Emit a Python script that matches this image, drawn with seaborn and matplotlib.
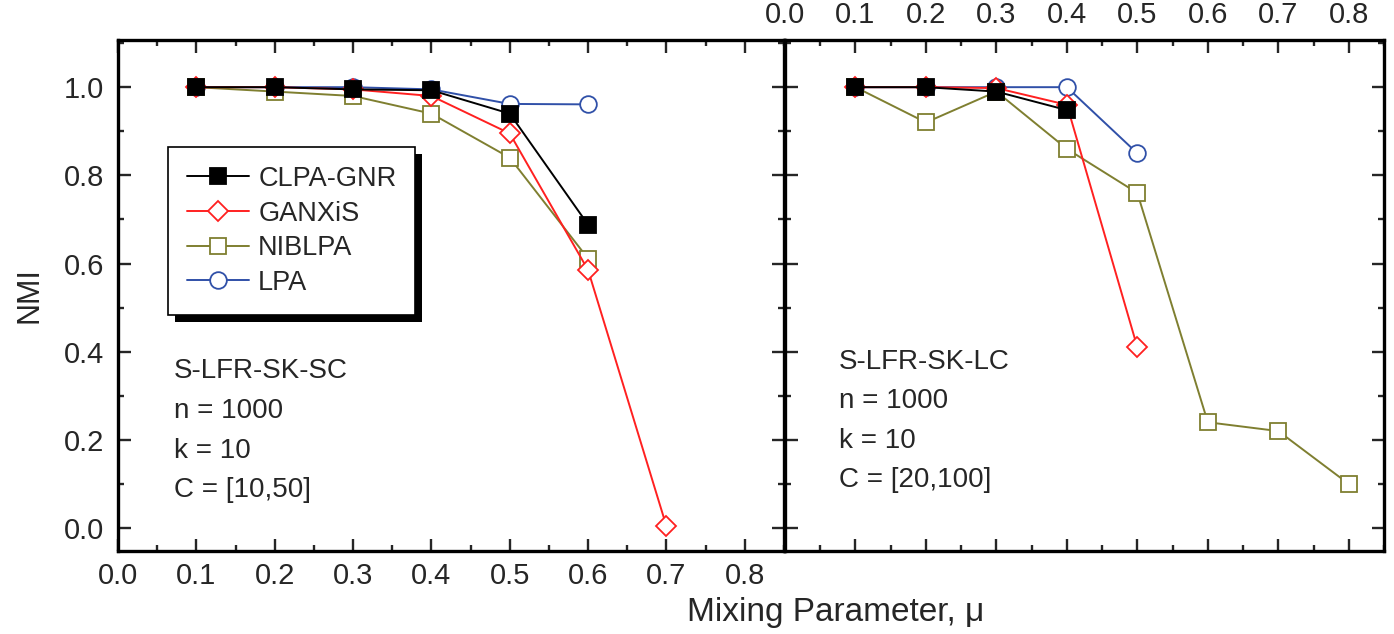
import matplotlib
matplotlib.use("Agg")
import matplotlib.pyplot as plt
from matplotlib.ticker import MultipleLocator
from matplotlib.patches import Rectangle
import seaborn as sns
import pandas as pd

sns.set_style("ticks")
plt.rcParams['font.family'] = ['Liberation Sans', 'DejaVu Sans']

# ---- data ----
series = ["CLPA-GNR", "GANXiS", "NIBLPA", "LPA"]

mu_sc = [0.1, 0.2, 0.3, 0.4, 0.5, 0.6, 0.7]
sc_clpa = [1.0, 1.0, 0.995, 0.993, 0.94, 0.688]
sc_ganxis = [1.0, 1.0, 0.995, 0.98, 0.895, 0.585, 0.004]
sc_niblpa = [1.0, 0.99, 0.98, 0.94, 0.84, 0.611]
sc_lpa = [1.0, 1.0, 1.0, 0.995, 0.962, 0.961]

mu_lc = [0.1, 0.2, 0.3, 0.4, 0.5, 0.6, 0.7, 0.8]
lc_clpa = [1.0, 1.0, 0.99, 0.948]
lc_ganxis = [1.0, 1.0, 0.998, 0.96, 0.41]
lc_niblpa = [1.0, 0.92, 0.99, 0.86, 0.76, 0.24, 0.22, 0.10]
lc_lpa = [1.0, 1.0, 1.0, 1.0, 0.85]

x_ticks = [0.0, 0.1, 0.2, 0.3, 0.4, 0.5, 0.6, 0.7, 0.8]
y_ticks = [0.0, 0.2, 0.4, 0.6, 0.8, 1.0]

sc_text = "S-LFR-SK-SC\nn = 1000\nk = 10\nC = [10,50]"
lc_text = "S-LFR-SK-LC\nn = 1000\nk = 10\nC = [20,100]"

colors = {"CLPA-GNR": "#000000", "GANXiS": "#ff2020", "NIBLPA": "#7f7f30", "LPA": "#3050a8"}
markers = {"CLPA-GNR": "s", "GANXiS": "D", "NIBLPA": "s", "LPA": "o"}
msizes = {"CLPA-GNR": 11.5, "GANXiS": 10.5, "NIBLPA": 11.5, "LPA": 12}
filled = {"CLPA-GNR": True, "GANXiS": False, "NIBLPA": False, "LPA": False}


def make_df(mu, vals_list):
    rows = []
    for name, vals in zip(series, vals_list):
        for m, v in zip(mu, vals):
            rows.append({"mu": m, "nmi": v, "method": name})
    return pd.DataFrame(rows)

df_sc = make_df(mu_sc, [sc_clpa, sc_ganxis, sc_niblpa, sc_lpa])
df_lc = make_df(mu_lc, [lc_clpa, lc_ganxis, lc_niblpa, lc_lpa])

W, H = 1394, 634
fig = plt.figure(figsize=(W / 100, H / 100), dpi=100)
ax1 = fig.add_axes([118 / W, 1 - 551 / H, 666 / W, 511 / H])
ax2 = fig.add_axes([785 / W, 1 - 551 / H, 599 / W, 511 / H])

draw_order = ["LPA", "NIBLPA", "GANXiS", "CLPA-GNR"]
for ax, df in [(ax1, df_sc), (ax2, df_lc)]:
    for name in draw_order:
        d = df[df.method == name]
        c = colors[name]
        sns.lineplot(data=d, x="mu", y="nmi", ax=ax, color=c, lw=1.4,
                     marker=markers[name], markersize=msizes[name],
                     markerfacecolor=(c if filled[name] else "white"),
                     markeredgecolor=c, markeredgewidth=1.3,
                     label=name, legend=False, zorder=3)
    ax.set_xlim(0.0, 0.85)
    ax.set_ylim(-0.052, 1.107)
    ax.set_xlabel("")
    ax.set_ylabel("")
    ax.set_xticks(x_ticks)
    ax.set_yticks(y_ticks)
    ax.xaxis.set_minor_locator(MultipleLocator(0.05))
    ax.yaxis.set_minor_locator(MultipleLocator(0.1))
    for s in ax.spines.values():
        s.set_visible(True)
        s.set_linewidth(2.4)
        s.set_color("black")
    ax.tick_params(axis="x", which="major", direction="in", length=9, width=1.7,
                   top=True, bottom=True, labelsize=21, pad=8)
    ax.tick_params(axis="x", which="minor", direction="in", length=4.5, width=1.7,
                   top=True, bottom=True)
    ax.tick_params(axis="y", which="major", direction="in", length=9, width=1.7,
                   left=True, right=True, labelsize=21, pad=10)
    ax.tick_params(axis="y", which="minor", direction="in", length=4.5, width=1.7,
                   left=True, right=True)
    ax.grid(False)

ax1.set_xticklabels([f"{t:.1f}" for t in x_ticks])
ax1.set_yticklabels([f"{t:.1f}" for t in y_ticks])
ax2.tick_params(axis="y", labelleft=False, labelright=False)
ax2.tick_params(axis="x", labelbottom=False, labeltop=True)
ax2.set_xticklabels([f"{t:.1f}" for t in x_ticks])

ax1.text(0.084, 0.377, sc_text, transform=ax1.transAxes, fontsize=20,
         va="top", ha="left", linespacing=1.68)
ax2.text(0.09, 0.396, lc_text, transform=ax2.transAxes, fontsize=20,
         va="top", ha="left", linespacing=1.68)

# legend (left panel)
handles, labels = ax1.get_legend_handles_labels()
order = [labels.index(s) for s in series]
leg = ax1.legend([handles[i] for i in order], [labels[i] for i in order],
                 loc="upper left", bbox_to_anchor=(0.075, 0.7906), borderaxespad=0,
                 fancybox=False, frameon=True, edgecolor="black", framealpha=1,
                 prop={'size': 19.5},
                 handlelength=2.3, handletextpad=0.33, labelspacing=0.32,
                 borderpad=0.7)
leg.get_frame().set_linewidth(1.2)
leg.set_zorder(10)

fig.canvas.draw()
bb = leg.get_window_extent()
shadow = Rectangle((bb.x0 + 7, bb.y0 - 7), bb.width, bb.height, transform=None,
                   facecolor="black", edgecolor="none", zorder=9)
ax1.add_artist(shadow)
shadow.set_clip_on(False)

fig.text(30 / W, 1 - 295 / H, "NMI", rotation=90, fontsize=22, ha="center", va="center")
fig.text(836 / W, 1 - 612 / H, "Mixing Parameter, μ", fontsize=24, ha="center", va="center")

fig.savefig("out.png", dpi=100)
